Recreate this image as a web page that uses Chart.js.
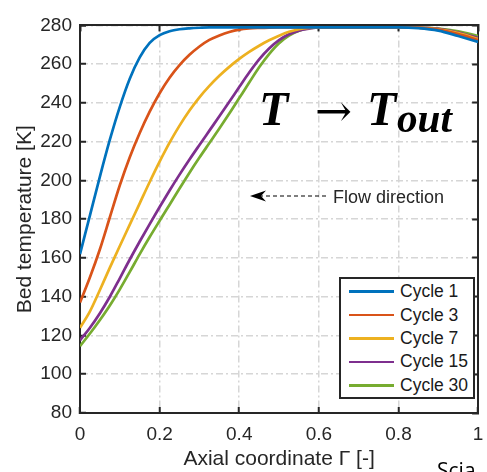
<!DOCTYPE html>
<html><head><meta charset="utf-8">
<script src="https://cdn.jsdelivr.net/npm/chart.js@4"></script>
<style>
html,body{margin:0;padding:0;background:#fff;overflow:hidden;width:487px;height:472px;}
#wrap{position:relative;width:487px;height:472px;overflow:hidden;}
#c{position:absolute;left:0;top:0;}
#legend{position:absolute;left:339px;top:277px;width:132px;height:117px;border:2px solid #262626;background:#fff;padding-top:1px;font-family:"Liberation Sans",Arial,sans-serif;font-size:17.5px;color:#1a1a1a;}
.row{display:flex;align-items:center;height:23.4px;}
.sw{margin-left:8px;width:45px;height:2.6px;}
.lb{margin-left:6px;white-space:nowrap;}
#ann{position:absolute;left:0;top:0;pointer-events:none;}
</style></head>
<body><div id="wrap">
<canvas id="c" width="500" height="472"></canvas>
<div id="legend"></div>
<svg id="ann" width="487" height="472">
  <text x="259" y="125" font-family="Liberation Serif" font-weight="bold" font-style="italic" font-size="48" fill="#000">T</text>
  <text x="315" y="126" font-family="DejaVu Serif" font-size="44" textLength="37" lengthAdjust="spacingAndGlyphs" fill="#000">→</text>
  <text x="367" y="125" font-family="Liberation Serif" font-weight="bold" font-style="italic" font-size="48" fill="#000">T</text>
  <text x="397" y="132" font-family="Liberation Serif" font-weight="bold" font-style="italic" font-size="41" textLength="55" lengthAdjust="spacingAndGlyphs" fill="#000">out</text>
  <line x1="259" y1="196" x2="326" y2="196" stroke="#000" stroke-width="1.2" stroke-dasharray="4,3"/>
  <path d="M250,196 L266,190.5 L261,196 L266,201.5 Z" fill="#000"/>
  <text x="333" y="203" font-family="Liberation Sans, Arial, sans-serif" font-size="18" fill="#262626">Flow direction</text>
  <text x="437" y="478" font-family="Open Sans, sans-serif" font-size="21" fill="#000">Scia</text>
</svg>
</div>
<script>
// axial coordinate samples
const xs = [0,0.025,0.05,0.075,0.1,0.125,0.15,0.175,0.2,0.225,0.25,0.275,0.3,0.325,0.35,0.375,0.4,0.425,0.45,0.475,0.5,0.525,0.55,0.575,0.6,0.65,0.7,0.75,0.8,0.85,0.9,0.95,1.0];
// bed temperature [K] per cycle
const cycle1  = [162,182,202,221,238,252.5,263.5,271,275,277,278,278.5,278.8,279,279,279,279,279,279,279,279,279,279,279,279,279,279,279,279,278.6,277.3,274.5,271.5];
const cycle3  = [137,150,164.5,181,197.5,212,224.5,235.5,245,253,259.5,264.8,269.1,272.5,274.8,276.6,277.8,278.4,278.7,278.9,279,279,279,279,279,279,279,279,279,278.8,277.8,275.5,272.5];
const cycle7  = [124,132.5,143.5,155,166.2,177.2,188.2,199.2,209.7,219.5,228.3,236.1,242.9,248.8,254,258.6,262.7,266.3,269.5,272.3,274.7,276.7,278,278.7,279,279,279,279,279,278.8,278,276,273];
const cycle15 = [117.5,124,131.5,140,149.5,159.2,168.5,177.5,186.3,194.8,203,210.8,218.3,225.7,233.1,240.6,248.2,255.7,262.5,268.1,272.4,275.4,277.3,278.3,279,279,279,279,279,278.9,278.2,276.3,273.5];
const cycle30 = [114.5,121,128,135.5,143.8,152.8,162,170.8,179.2,187.5,195.8,204,211.8,219.3,226.8,234.5,242.5,250.5,258.4,265.2,270.8,274.7,277.2,278.6,279,279,279,279,279,278.9,278.4,277,274.5];
const seriesNames = ['Cycle 1','Cycle 3','Cycle 7','Cycle 15','Cycle 30'];
const seriesValues = [cycle1, cycle3, cycle7, cycle15, cycle30];
const colors = ['#0072BD','#D95319','#EDB120','#7E2F8E','#77AC30'];
const xTicks = [0,0.2,0.4,0.6,0.8,1];
const xTickLabels = ['0','0.2','0.4','0.6','0.8','1'];
const yTicks = [80,100,120,140,160,180,200,220,240,260,280];
const yTickLabels = ['80','100','120','140','160','180','200','220','240','260','280'];

const FONT = '"Liberation Sans", Arial, sans-serif';
const TXT = '#262626';
const tickFont = {family: FONT, size: 19, lineHeight: 1.2};
const titleFont = {family: FONT, size: 21, lineHeight: 1.2};

const datasets = seriesNames.map((n, i) => ({
  label: n,
  data: xs.map((x, j) => ({x: x, y: seriesValues[i][j]})),
  borderColor: colors[i],
  backgroundColor: colors[i],
  borderWidth: 2.7,
  pointRadius: 0,
  cubicInterpolationMode: 'monotone',
  fill: false
}));

const gridMain = {color: '#d6d6d6', lineWidth: 1.5, tickLength: -6, tickColor: TXT, tickWidth: 2};
const gridEdge = {drawOnChartArea: false, tickLength: -6, tickColor: TXT, tickWidth: 2};

new Chart(document.getElementById('c'), {
  type: 'line',
  data: {datasets},
  options: {
    responsive: false, animation: false, devicePixelRatio: 1,
    layout: {padding: {top: 16, right: 11, bottom: 0, left: 0}},
    plugins: {legend: {display: false}, tooltip: {enabled: false}},
    scales: {
      x: {
        type: 'linear', position: 'bottom', min: 0, max: 1,
        afterBuildTicks: s => { s.ticks = xTicks.map(v => ({value: v})); },
        ticks: {font: tickFont, color: TXT, padding: 16.6, maxRotation: 0, autoSkip: false,
          callback: v => xTickLabels[xTicks.indexOf(v)]},
        grid: gridMain,
        border: {display: true, color: TXT, width: 2, dash: [7, 3, 2, 3]},
        title: {display: true, text: 'Axial coordinate Γ [-]', font: titleFont, color: TXT, padding: {top: 0, bottom: 0}},
        afterFit: s => { s.height = 59; }
      },
      y: {
        type: 'linear', position: 'left', min: 80, max: 280,
        afterBuildTicks: s => { s.ticks = yTicks.map(v => ({value: v})); },
        ticks: {font: tickFont, color: TXT, padding: 14, autoSkip: false,
          callback: v => yTickLabels[yTicks.indexOf(v)]},
        grid: gridMain,
        border: {display: true, color: TXT, width: 2, dash: [7, 3, 2, 3]},
        title: {display: true, text: 'Bed temperature [K]', font: titleFont, color: TXT, padding: {top: 12.4, bottom: 0}},
        afterFit: s => { s.width = 80; }
      },
      x2: {
        type: 'linear', position: 'top', min: 0, max: 1,
        afterBuildTicks: s => { s.ticks = xTicks.map(v => ({value: v})); },
        ticks: {display: false},
        grid: gridEdge,
        border: {display: true, color: TXT, width: 2},
        afterFit: s => { s.height = 0; }
      },
      y2: {
        type: 'linear', position: 'right', min: 80, max: 280,
        afterBuildTicks: s => { s.ticks = yTicks.map(v => ({value: v})); },
        ticks: {display: false},
        grid: gridEdge,
        border: {display: true, color: TXT, width: 2},
        afterFit: s => { s.width = 0; }
      }
    }
  }
});

const lg = document.getElementById('legend');
seriesNames.forEach((n, i) => {
  const r = document.createElement('div'); r.className = 'row';
  const sw = document.createElement('div'); sw.className = 'sw'; sw.style.background = colors[i];
  const lb = document.createElement('div'); lb.className = 'lb'; lb.textContent = n;
  r.appendChild(sw); r.appendChild(lb); lg.appendChild(r);
});
</script>
</body></html>
